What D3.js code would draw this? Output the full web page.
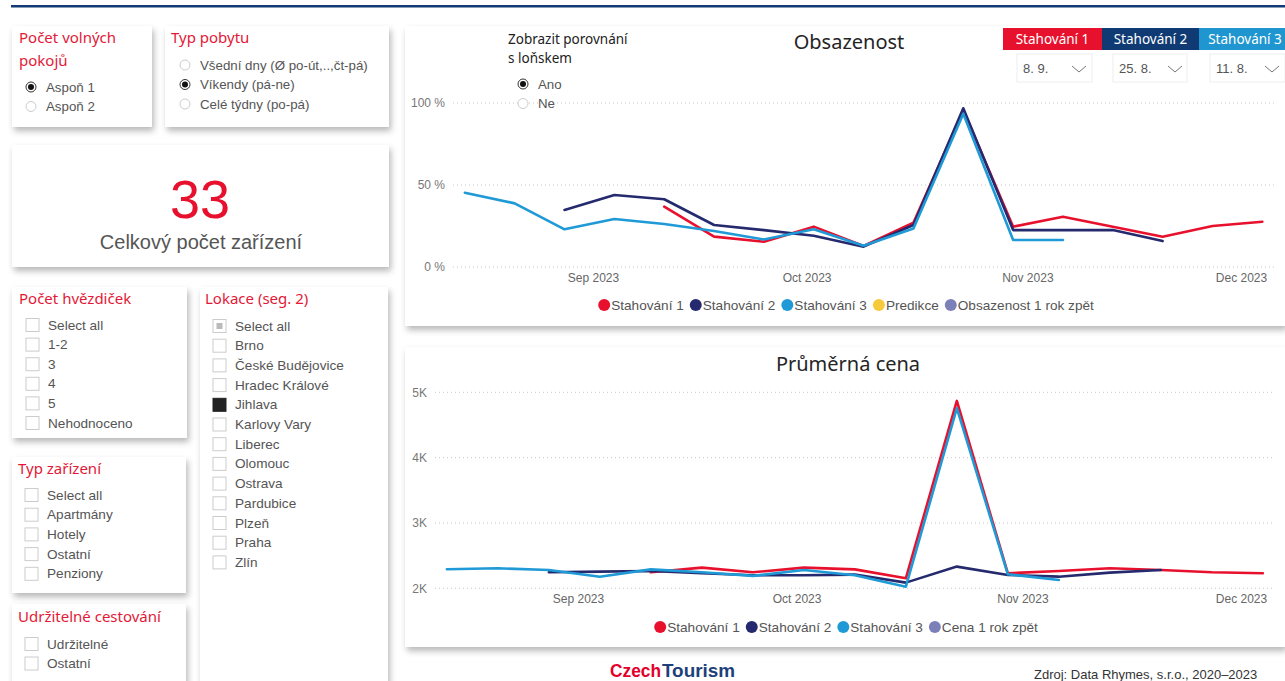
<!DOCTYPE html>
<html>
<head>
<meta charset="utf-8">
<script src="https://cdn.jsdelivr.net/npm/d3@7"></script>
<style>
  body { margin: 0; background: #fff; overflow: hidden; }
  svg { display: block; }
</style>
</head>
<body>
<svg id="page"></svg>
<script>
// ---- data ----
const weeks = ["2023-08-14","2023-08-21","2023-08-28","2023-09-04","2023-09-11","2023-09-18",
  "2023-09-25","2023-10-02","2023-10-09","2023-10-16","2023-10-23","2023-10-30",
  "2023-11-06","2023-11-13","2023-11-20","2023-11-27","2023-12-04"];

const seriesNames = ["Stahování 1", "Stahování 2", "Stahování 3"];
const downloadDates = ["8. 9.", "25. 8.", "11. 8."];

// obsazenost in %
const occS1 = [null,null,null,null,36.8,18.5,15.4,24.6,12.8,27.0,95.5,24.6,30.7,24.6,18.5,25.0,27.6];
const occS2 = [null,null,34.8,43.9,41.3,25.6,22.5,19.1,12.4,25.6,96.8,22.5,22.5,22.5,15.8,null,null];
const occS3 = [45.3,38.8,23.0,29.3,26.2,22.0,16.8,23.0,13.0,23.5,93.5,16.5,16.5,null,null,null,null];

// prumerna cena in CZK
const priceS1 = [null,null,null,null,2245,2316,2245,2316,2290,2153,4868,2230,2265,2306,2280,2245,2230];
const priceS2 = [null,null,2245,2255,2265,2230,2200,2200,2210,2087,2332,2204,2178,2240,2280,null,null];
const priceS3 = [2291,2306,2280,2178,2290,2245,2190,2280,2200,2025,4756,2215,2127,null,null,null,null];

const occTicks = [0, 50, 100];
const priceTicks = [2000, 3000, 4000, 5000];
const monthTicks = ["2023-09-01", "2023-10-01", "2023-11-01", "2023-12-01"];

const occLegend = ["Stahování 1", "Stahování 2", "Stahování 3", "Predikce", "Obsazenost 1 rok zpět"];
const priceLegend = ["Stahování 1", "Stahování 2", "Stahování 3", "Cena 1 rok zpět"];

const roomOptions = ["Aspoň 1", "Aspoň 2"];
const stayOptions = ["Všední dny (Ø po-út,..,čt-pá)", "Víkendy (pá-ne)", "Celé týdny (po-pá)"];
const starOptions = ["Select all", "1-2", "3", "4", "5", "Nehodnoceno"];
const typeOptions = ["Select all", "Apartmány", "Hotely", "Ostatní", "Penziony"];
const sustOptions = ["Udržitelné", "Ostatní"];
const places = ["Select all", "Brno", "České Budějovice", "Hradec Králové", "Jihlava", "Karlovy Vary",
  "Liberec", "Olomouc", "Ostrava", "Pardubice", "Plzeň", "Praha", "Zlín"];
const totalCount = 33;

// ---- styles ----
const RED = "#e8112d", NAVY = "#252a6e", BLUE = "#1f9ad6";
const lineColors = [RED, NAVY, BLUE];
const legendColors = [RED, NAVY, BLUE, "#f5cb3c", "#7c80b8"];
const priceLegendColors = [RED, NAVY, BLUE, "#7c80b8"];
const TITLE_RED = "#e31837";
const uiFont = "'Noto Sans', 'Open Sans', sans-serif";
const arial = "'Liberation Sans', Arial, sans-serif";

const W = 1285, H = 681;
const svg = d3.select("#page").attr("width", W).attr("height", H);

const defs = svg.append("defs");
defs.append("filter").attr("id", "sh")
  .attr("x", "-10%").attr("y", "-10%").attr("width", "125%").attr("height", "135%")
  .append("feDropShadow")
  .attr("dx", 2).attr("dy", 4).attr("stdDeviation", 3)
  .attr("flood-color", "#000").attr("flood-opacity", 0.28);

// top rule
svg.append("rect").attr("x", 11).attr("y", 5).attr("width", W - 11).attr("height", 2.5).attr("fill", "#123a74");

function panel(x, y, w, h) {
  svg.append("rect").attr("x", x).attr("y", y).attr("width", w).attr("height", h)
    .attr("fill", "#fff").attr("filter", "url(#sh)");
}

function title(x, y, txt) {
  svg.append("text").attr("x", x).attr("y", y).text(txt)
    .attr("font-family", uiFont).attr("font-size", 15).attr("fill", TITLE_RED);
}

function radios(cx, y0, step, labels, checked) {
  const g = svg.append("g");
  labels.forEach((lab, i) => {
    const cy = y0 + i * step;
    g.append("circle").attr("cx", cx).attr("cy", cy).attr("r", 5)
      .attr("fill", "#fff").attr("stroke", i === checked ? "#333" : "#ccc").attr("stroke-width", 1);
    if (i === checked) g.append("circle").attr("cx", cx).attr("cy", cy).attr("r", 3).attr("fill", "#111");
    g.append("text").attr("x", cx + 15).attr("y", cy + 4.5).text(lab)
      .attr("font-family", arial).attr("font-size", 13.3).attr("fill", "#555");
  });
}

function checks(x, y0, step, labels, state) {
  const g = svg.append("g");
  labels.forEach((lab, i) => {
    const cy = y0 + i * step;
    g.append("rect").attr("x", x).attr("y", cy - 6.5).attr("width", 13).attr("height", 13)
      .attr("fill", state[i] === 2 ? "#222" : "#fff").attr("stroke", state[i] === 2 ? "#222" : "#ccc");
    if (state[i] === 1) g.append("rect").attr("x", x + 3.5).attr("y", cy - 3).attr("width", 6).attr("height", 6).attr("fill", "#bbb");
    g.append("text").attr("x", x + 22).attr("y", cy + 4.5).text(lab)
      .attr("font-family", arial).attr("font-size", 13.6).attr("fill", "#555");
  });
}

// ---- left filters ----
panel(12, 26, 140, 101);
title(19, 43, "Počet volných");
title(19, 66, "pokojů");
radios(31, 87, 19.5, roomOptions, 0);

panel(165, 26, 224, 101);
title(171, 43, "Typ pobytu");
radios(185, 65, 19.5, stayOptions, 1);

panel(12, 145, 377, 122);
svg.append("text").attr("x", 200).attr("y", 218).attr("text-anchor", "middle").text(totalCount)
  .attr("font-family", arial).attr("font-size", 54).attr("fill", RED);
svg.append("text").attr("x", 201).attr("y", 249).attr("text-anchor", "middle").text("Celkový počet zařízení")
  .attr("font-family", arial).attr("font-size", 20).attr("fill", "#555");

panel(12, 287, 175, 151);
title(19, 304, "Počet hvězdiček");
checks(26, 325, 19.6, starOptions, starOptions.map(() => 0));

panel(200, 287, 188, 400);
title(205, 304, "Lokace (seg. 2)");
checks(213, 326, 19.7, places, places.map(p => p === "Select all" ? 1 : p === "Jihlava" ? 2 : 0));

panel(12, 457, 174, 136);
title(18, 474, "Typ zařízení");
checks(25, 495, 19.7, typeOptions, typeOptions.map(() => 0));

panel(12, 604, 174, 90);
title(18, 622, "Udržitelné cestování");
checks(25, 644, 19.5, sustOptions, sustOptions.map(() => 0));

// ---- charts ----
const parse = d3.timeParse("%Y-%m-%d");
const weekDates = weeks.map(parse);
const fmtMonth = d3.timeFormat("%b %Y");

function drawChart(cfg) {
  panel(cfg.px, cfg.py, cfg.pw, cfg.ph);
  const g = svg.append("g");

  const x = d3.scaleTime().domain([parse("2023-08-12"), parse("2023-12-06")]).range(cfg.xRange);
  const y = d3.scaleLinear().domain(cfg.yDomain).range(cfg.yRange);

  // gridlines
  g.selectAll("line.grid").data(cfg.yTicks).join("line")
    .attr("x1", cfg.gridX[0]).attr("x2", cfg.gridX[1])
    .attr("y1", d => y(d)).attr("y2", d => y(d))
    .attr("stroke", "#c8c8c8").attr("stroke-width", 1).attr("stroke-dasharray", "1,3");

  // y axis labels
  const yAxis = d3.axisLeft(y).tickValues(cfg.yTicks).tickFormat(cfg.yFmt).tickSize(0).tickPadding(0);
  const ya = g.append("g").attr("transform", `translate(${cfg.yLabelX},0)`).call(yAxis);
  ya.select(".domain").remove();
  ya.selectAll("text").attr("font-family", arial).attr("font-size", 12).attr("fill", "#777");

  // x axis labels
  const xAxis = d3.axisBottom(x).tickValues(monthTicks.map(parse)).tickFormat(fmtMonth).tickSize(0).tickPadding(0);
  const xa = g.append("g").attr("transform", `translate(0,${cfg.xLabelY})`).call(xAxis);
  xa.select(".domain").remove();
  xa.selectAll("text").attr("font-family", arial).attr("font-size", 12).attr("fill", "#666");

  // lines
  const line = d3.line()
    .defined(d => d.v != null)
    .x(d => x(d.date)).y(d => y(d.v));
  cfg.series.forEach((vals, i) => {
    const pts = vals.map((v, k) => ({ date: weekDates[k], v: v }));
    g.append("path").datum(pts).attr("d", line)
      .attr("fill", "none").attr("stroke", lineColors[i]).attr("stroke-width", 2.6)
      .attr("stroke-linejoin", "round").attr("stroke-linecap", "round");
  });

  // title
  g.append("text").attr("x", cfg.titleX).attr("y", cfg.titleY).attr("text-anchor", "middle").text(cfg.title)
    .attr("font-family", uiFont).attr("font-size", 20).attr("fill", "#252525");

  // legend
  const lg = g.append("g");
  let cx = 0;
  cfg.legend.forEach((lab, i) => {
    lg.append("circle").attr("cx", cx + 6).attr("cy", 0).attr("r", 6).attr("fill", cfg.legendColors[i]);
    const t = lg.append("text").attr("x", cx + 13).attr("y", 4.8).text(lab)
      .attr("font-family", arial).attr("font-size", 13.6).attr("fill", "#555");
    cx += 13 + t.node().getComputedTextLength() + 6;
  });
  lg.attr("transform", `translate(${cfg.legendCenter - (cx - 6) / 2},${cfg.legendY})`);
  return g;
}

drawChart({
  px: 405, py: 26, pw: 880, ph: 300,
  xRange: [450.6, 1276.6], gridX: [453, 1275],
  yDomain: [0, 100], yRange: [267, 103], yTicks: occTicks, yFmt: d => d + " %",
  yLabelX: 445, xLabelY: 273,
  series: [occS1, occS2, occS3],
  title: "Obsazenost", titleX: 849, titleY: 49,
  legend: occLegend, legendColors: legendColors, legendCenter: 846, legendY: 305
});

drawChart({
  px: 405, py: 347, pw: 880, ph: 300,
  xRange: [432.3, 1277.4], gridX: [435, 1275],
  yDomain: [2000, 5000], yRange: [588.3, 392.3], yTicks: priceTicks, yFmt: d => (d / 1000) + "K",
  yLabelX: 427, xLabelY: 594,
  series: [priceS1, priceS2, priceS3],
  title: "Průměrná cena", titleX: 848, titleY: 371,
  legend: priceLegend, legendColors: priceLegendColors, legendCenter: 846, legendY: 627
});

// comparison toggle (on top of chart 1)
svg.append("text").attr("x", 508).attr("y", 44).text("Zobrazit porovnání")
  .attr("font-family", uiFont).attr("font-size", 13.5).attr("fill", "#222");
svg.append("text").attr("x", 508).attr("y", 63).text("s loňskem")
  .attr("font-family", uiFont).attr("font-size", 13.5).attr("fill", "#222");
radios(523, 84, 19.5, ["Ano", "Ne"], 0);

// download slicers
const btnX = [1003, 1102, 1199], btnW = [99, 97, 86], btnFill = [RED, "#0f3a74", "#1f96d0"];
const ddX = [1017, 1113, 1210], ddW = [75, 74, 75];
seriesNames.forEach((name, i) => {
  svg.append("rect").attr("x", btnX[i]).attr("y", 28).attr("width", btnW[i]).attr("height", 22).attr("fill", btnFill[i]);
  svg.append("text").attr("x", btnX[i] + btnW[i] / 2 + (i === 2 ? 3 : 0)).attr("y", 44).attr("text-anchor", "middle").text(name)
    .attr("font-family", uiFont).attr("font-size", 13.5).attr("fill", "#fff");
  svg.append("rect").attr("x", ddX[i]).attr("y", 54).attr("width", ddW[i]).attr("height", 28)
    .attr("fill", "#fff").attr("stroke", "#eee");
  svg.append("text").attr("x", ddX[i] + 6).attr("y", 73).text(downloadDates[i])
    .attr("font-family", arial).attr("font-size", 13).attr("fill", "#555");
  const cx = ddX[i] + 62;
  svg.append("path").attr("d", `M${cx - 7},66 L${cx},72 L${cx + 7},66`)
    .attr("fill", "none").attr("stroke", "#777").attr("stroke-width", 1);
});

// footer
const logoFont = "'Liberation Sans Narrow', 'Liberation Sans', sans-serif";
svg.append("text").attr("x", 610).attr("y", 677).text("Czech")
  .attr("font-family", logoFont).attr("font-weight", "bold").attr("font-size", 18)
  .attr("textLength", 51).attr("lengthAdjust", "spacingAndGlyphs").attr("fill", "#e4002b");
svg.append("text").attr("x", 662).attr("y", 677).text("Tourism")
  .attr("font-family", logoFont).attr("font-weight", "bold").attr("font-size", 18)
  .attr("textLength", 73).attr("lengthAdjust", "spacingAndGlyphs").attr("fill", "#1d3f7a");
svg.append("text").attr("x", 1034).attr("y", 679).text("Zdroj: Data Rhymes, s.r.o., 2020–2023")
  .attr("font-family", arial).attr("font-size", 13).attr("fill", "#333");
</script>
</body>
</html>
